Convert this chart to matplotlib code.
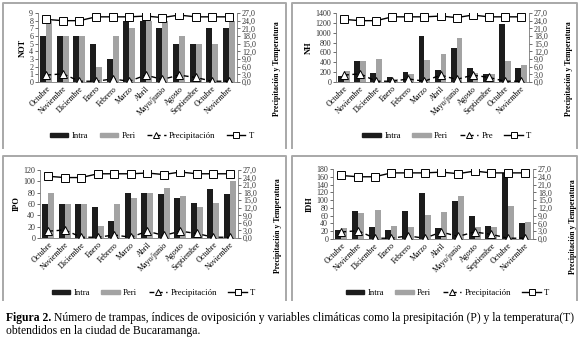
import numpy as np
import matplotlib.pyplot as plt
from matplotlib.lines import Line2D
from matplotlib.patches import Patch

plt.rcParams['font.family'] = ['Liberation Serif', 'DejaVu Serif']

meses = ["Octubre", "Noviembre", "Diciembre", "Enero", "Febrero", "Marzo", "Abril",
         "Mayo/junio", "Agosto", "Septiembre", "Octubre", "Noviembre"]

# NOT
not_intra = [6, 6, 6, 5, 3, 8, 8, 7, 5, 5, 7, 7]
not_peri = [8, 6, 6, 2, 6, 7, 8, 8, 6, 5, 5, 8]
# NH
nh_intra = [120, 420, 180, 100, 210, 940, 240, 690, 290, 160, 1170, 290]
nh_peri = [220, 420, 460, 60, 160, 440, 570, 890, 190, 160, 420, 340]
# IPO
ipo_intra = [60, 60, 60, 55, 30, 80, 80, 78, 71, 62, 87, 78]
ipo_peri = [80, 60, 60, 22, 60, 70, 80, 88, 75, 55, 62, 100]
# IDH
idh_intra = [22, 71, 30, 23, 71, 118, 29, 99, 58, 33, 170, 42]
idh_peri = [28, 68, 75, 33, 30, 62, 70, 110, 31, 31, 86, 43]

temp = [24.5, 24.0, 24.0, 25.5, 25.5, 25.5, 25.8, 25.2, 26.2, 25.5, 25.5, 25.5]
precip = [2.7, 3.2, 0.3, 0.3, 1.2, 0.3, 2.7, 1.0, 2.7, 1.8, 0.3, 0.3]

W, H = 581, 340
fig = plt.figure(figsize=(W / 100, H / 100), dpi=100)

c_intra = '#1c1c1c'
c_peri = '#a3a3a3'
frame = '#a8a8a8'
pdash = (0, (3.5, 2.5))


def px(l, t, r, b):
    return [l / W, 1 - b / H, (r - l) / W, (b - t) / H]


def panel(rect, intra, peri, ymax, ystep, ylab, plab, legy, labc):
    ax = fig.add_axes(px(*rect))
    x = np.arange(len(meses))
    w = 0.36
    ax.bar(x - w / 2, intra, w, color=c_intra, zorder=2)
    ax.bar(x + w / 2, peri, w, color=c_peri, zorder=2)
    ax.set_xlim(-0.5, len(meses) - 0.5)
    ax.set_ylim(0, ymax)
    ax.set_yticks(np.arange(0, ymax + 1, ystep))
    ax.set_xticks(x)
    ax.set_xticklabels(meses, rotation=45, ha='right', rotation_mode='anchor', fontsize=5.8)
    ax.tick_params(axis='x', length=0, pad=2)
    ax.tick_params(axis='y', labelsize=5.8, length=2, width=0.5, pad=1.5, colors='#333333')
    ax.set_ylabel(ylab, fontsize=6, fontweight='bold', labelpad=2)
    for s in ['top', 'right']:
        ax.spines[s].set_visible(False)
    for s in ['left', 'bottom']:
        ax.spines[s].set_color('#777777')
        ax.spines[s].set_linewidth(0.6)

    ax2 = ax.twinx()
    ax2.set_ylim(0, 27)
    ax2.set_yticks(np.arange(0, 28, 3))
    ax2.set_yticklabels([f"{v:.1f}".replace('.', ',') for v in np.arange(0, 28, 3)])
    ax2.tick_params(axis='y', labelsize=5.8, length=2, width=0.5, pad=1.5, colors='#333333')
    ax2.set_ylabel("Precipitación y Temperatura", fontsize=5.6, fontweight='bold')
    ax2.yaxis.set_label_coords(1 + 36 / (rect[2] - rect[0]), labc)
    for s in ['top', 'left', 'bottom']:
        ax2.spines[s].set_visible(False)
    ax2.spines['right'].set_color('#777777')
    ax2.spines['right'].set_linewidth(0.6)
    ax2.plot(x, precip, color='black', lw=1.0, ls=pdash, marker='^', ms=6, mfc='white', mec='black', mew=0.7, zorder=3)
    ax2.plot(x, temp, color='black', lw=1.0, marker='s', ms=5.5, mfc='white', mec='black', mew=0.7, zorder=3)

    handles = [Patch(color=c_intra), Patch(color=c_peri),
               Line2D([], [], color='black', lw=1.0, ls=pdash, marker='^', ms=5, mfc='white', mec='black', mew=0.7),
               Line2D([], [], color='black', lw=1.0, marker='s', ms=4.5, mfc='white', mec='black', mew=0.7)]
    cx = (rect[0] + rect[2]) / 2 / W
    fig.legend(handles, ["Intra", "Peri", plab, "T"], loc='center', ncol=4,
               bbox_to_anchor=(cx + 0.025, 1 - legy / H), frameon=False, fontsize=6.3,
               handlelength=2.1, handleheight=0.45, columnspacing=1.3, handletextpad=0.4)
    return ax


panel((38, 13, 237, 82), not_intra, not_peri, 9, 1, "NOT", "Precipitación", 136, 0.2)
panel((336, 13, 529, 82), nh_intra, nh_peri, 1400, 200, "NH", "Pre", 136, 0.2)
panel((40, 170, 238, 238), ipo_intra, ipo_peri, 120, 20, "IPO", "Precipitación", 293, 0.18)
panel((333, 169, 533, 239), idh_intra, idh_peri, 180, 20, "IDH", "Precipitación", 293, 0.18)

# gray panel frames (open at bottom)
for (l, t, r, b) in [(3, 3, 286, 148), (292, 3, 577, 148), (3, 156, 286, 300), (292, 156, 577, 300)]:
    xs = [l / W, l / W, r / W, r / W]
    ys = [1 - b / H, 1 - t / H, 1 - t / H, 1 - b / H]
    fig.add_artist(Line2D(xs, ys, color=frame, lw=1.4))

# caption
fs = 8.4
t1 = fig.text(6 / W, 1 - 318 / H, "Figura 2.", fontsize=fs, fontweight='bold', va='center')
fig.canvas.draw()
bb = t1.get_window_extent()
fig.text((bb.x1 + 3) / W, 1 - 318 / H,
         "Número de trampas, índices de oviposición y variables climáticas como la presipitación (P) y la temperatura(T)",
         fontsize=fs, va='center')
fig.text(6 / W, 1 - 331 / H, "obtendidos en la ciudad de Bucaramanga.", fontsize=fs, va='center')

fig.savefig("out.png", dpi=100)
